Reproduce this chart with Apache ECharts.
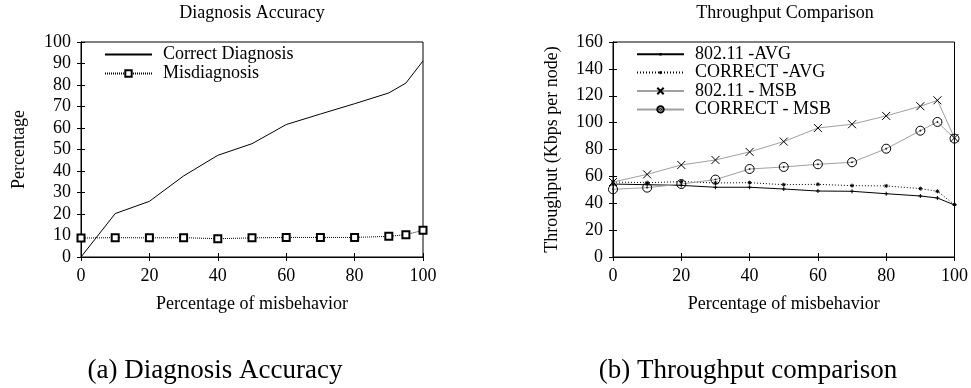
<!DOCTYPE html>
<html>
<head>
<meta charset="utf-8">
<script src="https://cdn.jsdelivr.net/npm/echarts@6/dist/echarts.min.js"></script>
<style>
  html, body { margin: 0; padding: 0; background: #fff; }
  #chart { width: 971px; height: 388px; }
</style>
</head>
<body>
<div id="chart"></div>
<script>
// x positions (percentage of misbehavior)
const xs = [0, 10, 20, 30, 40, 50, 60, 70, 80, 90, 95, 100];

// (a) diagnosis accuracy
const correctDiag = [0, 20.2, 25.9, 37.7, 47.3, 52.7, 61.6, 66.5, 71.3, 76.3, 80.9, 91.2];
const misDiag = [8.8, 9.0, 8.9, 9.0, 8.5, 8.9, 9.1, 9.1, 9.1, 9.6, 10.4, 12.4];

// (b) throughput, Kbps per node
const avg80211 = [54.3, 53.8, 53.3, 51.9, 51.9, 50.6, 49.1, 48.9, 47.1, 45.4, 43.9, 38.7];
const avgCorrect = [55.8, 55.3, 56.1, 55.1, 55.3, 53.8, 54.1, 53.1, 52.9, 50.9, 48.9, 39.0];
const msb80211 = [55.8, 61.5, 68.5, 72.2, 78.2, 85.9, 96.0, 98.8, 105.0, 112.2, 116.6, 88.6];
const msbCorrect = [50.4, 51.6, 54.3, 57.6, 65.5, 67.0, 69.0, 70.5, 80.6, 94.0, 100.5, 88.1];

const font = 'Liberation Serif';
const pair = (ys) => xs.map((x, i) => [x, ys[i]]);

// small marks are drawn inside a padded 10x10 box so the legend copy stays tiny
const plusPath = 'path://M0,0M10,10M3,5L7,5M5,3L5,7';
const starPath = 'path://M0,0M10,10M3,5L7,5M5,3L5,7M3.6,3.6L6.4,6.4M6.4,3.6L3.6,6.4';
const crossPath = 'path://M0,0L10,10M10,0L0,10';
const dotCirclePath = 'path://M5,0A5,5,0,1,1,5,10A5,5,0,1,1,5,0ZM5,4.4A0.6,0.6,0,1,1,5,5.6A0.6,0.6,0,1,1,5,4.4Z';

function xAxes(gi) {
  return [
    {
      type: 'value', gridIndex: gi, min: 0, max: 100, interval: 20, position: 'bottom',
      name: 'Percentage of misbehavior', nameLocation: 'middle', nameGap: 38,
      nameTextStyle: { fontFamily: font, fontSize: 18, color: '#000' },
      axisLine: { lineStyle: { color: '#000' } },
      axisTick: { inside: true, length: 4, lineStyle: { color: '#000' } },
      axisLabel: { fontFamily: font, fontSize: 18, color: '#000', margin: 10 },
      splitLine: { show: false },
    },
    {
      type: 'value', gridIndex: gi, min: 0, max: 100, interval: 20, position: 'top',
      axisLine: { lineStyle: { color: '#000' } },
      axisTick: { inside: true, length: 4, lineStyle: { color: '#000' } },
      axisLabel: { show: false },
      splitLine: { show: false },
    },
  ];
}

function yAxes(gi, max, interval, name, gap) {
  return [
    {
      type: 'value', gridIndex: gi, min: 0, max: max, interval: interval, position: 'left',
      name: name, nameLocation: 'middle', nameGap: gap, nameRotate: 90,
      nameTextStyle: { fontFamily: font, fontSize: 18, color: '#000' },
      axisLine: { show: true, lineStyle: { color: '#000' } },
      axisTick: { show: true, inside: true, length: 4, lineStyle: { color: '#000' } },
      axisLabel: { fontFamily: font, fontSize: 18, color: '#000', margin: 10 },
      splitLine: { show: false },
    },
    {
      type: 'value', gridIndex: gi, min: 0, max: max, interval: interval, position: 'right',
      axisLine: { show: true, lineStyle: { color: '#000' } },
      axisTick: { show: true, inside: true, length: 4, lineStyle: { color: '#000' } },
      axisLabel: { show: false },
      splitLine: { show: false },
    },
  ];
}

const chart = echarts.init(document.getElementById('chart'));

const titleStyle = { fontFamily: font, fontSize: 18, fontWeight: 'normal', color: '#000' };
const captionStyle = { fontFamily: font, fontSize: 27, fontWeight: 'normal', color: '#000' };

const option = {
  animation: false,
  backgroundColor: '#fff',
  textStyle: { fontFamily: font },
  title: [
    { text: 'Diagnosis Accuracy', left: 252, top: 4, padding: 0, textAlign: 'center', textStyle: titleStyle },
    { text: 'Throughput Comparison', left: 785, top: 4, padding: 0, textAlign: 'center', textStyle: titleStyle },
    { text: '(a) Diagnosis Accuracy', left: 215, top: 357, padding: 0, textAlign: 'center', textStyle: captionStyle },
    { text: '(b) Throughput comparison', left: 748, top: 357, padding: 0, textAlign: 'center', textStyle: captionStyle },
  ],
  legend: [
    {
      left: 104, top: 45, padding: 0, orient: 'vertical', itemWidth: 47, itemHeight: 8, itemGap: 0,
      data: ['Correct Diagnosis', 'Misdiagnosis'],
      textStyle: { fontFamily: font, fontSize: 18, color: '#000', lineHeight: 19, padding: [0, 0, 0, 6] },
    },
    {
      left: 636, top: 45, padding: 0, orient: 'vertical', itemWidth: 47, itemHeight: 8, itemGap: 0,
      data: ['802.11 -AVG', 'CORRECT -AVG', '802.11 - MSB', 'CORRECT - MSB'],
      textStyle: { fontFamily: font, fontSize: 18, color: '#000', lineHeight: 18.4, padding: [0, 0, 0, 6] },
    },
  ],
  grid: [
    { left: 81, top: 42, width: 342, height: 215, show: true, borderColor: '#000', borderWidth: 1 },
    { left: 613, top: 42, width: 343, height: 215, show: true, borderColor: '#000', borderWidth: 1 },
  ],
  xAxis: [...xAxes(0), ...xAxes(1)],
  yAxis: [...yAxes(0, 100, 10, 'Percentage', 53), ...yAxes(1, 160, 20, 'Throughput (Kbps per node)', 52)],
  series: [
    {
      name: 'Correct Diagnosis', type: 'line', xAxisIndex: 0, yAxisIndex: 0,
      data: pair(correctDiag), symbol: crossPath, showSymbol: false,
      lineStyle: { color: '#000', width: 1 },
      itemStyle: { color: 'rgba(0,0,0,0)', borderColor: 'rgba(0,0,0,0)', borderWidth: 0 },
    },
    {
      name: 'Misdiagnosis', type: 'line', xAxisIndex: 0, yAxisIndex: 0,
      data: pair(misDiag), symbol: 'emptyRect', symbolSize: 7,
      lineStyle: { color: '#000', width: 1, type: [1, 1] },
      itemStyle: { color: '#000', borderColor: '#000', borderWidth: 1 },
    },
    {
      name: '802.11 -AVG', type: 'line', xAxisIndex: 2, yAxisIndex: 2,
      data: pair(avg80211), symbol: plusPath, symbolSize: 10,
      lineStyle: { color: '#000', width: 1 },
      itemStyle: { color: '#000', borderColor: '#000', borderWidth: 1 },
    },
    {
      name: 'CORRECT -AVG', type: 'line', xAxisIndex: 2, yAxisIndex: 2,
      data: pair(avgCorrect), symbol: starPath, symbolSize: 10,
      lineStyle: { color: '#000', width: 1, type: [1, 2] },
      itemStyle: { color: '#000', borderColor: '#000', borderWidth: 1 },
    },
    {
      name: '802.11 - MSB', type: 'line', xAxisIndex: 2, yAxisIndex: 2,
      data: pair(msb80211), symbol: crossPath, symbolSize: 8,
      lineStyle: { color: '#a0a0a0', width: 1 },
      itemStyle: { color: 'rgba(0,0,0,0)', borderColor: '#000', borderWidth: 1 },
    },
    {
      name: 'CORRECT - MSB', type: 'line', xAxisIndex: 2, yAxisIndex: 2,
      data: pair(msbCorrect), symbol: dotCirclePath, symbolSize: 9,
      lineStyle: { color: '#a0a0a0', width: 1 },
      itemStyle: { color: 'rgba(0,0,0,0)', borderColor: '#000', borderWidth: 1 },
    },
  ],
};

chart.setOption(option);
</script>
</body>
</html>
